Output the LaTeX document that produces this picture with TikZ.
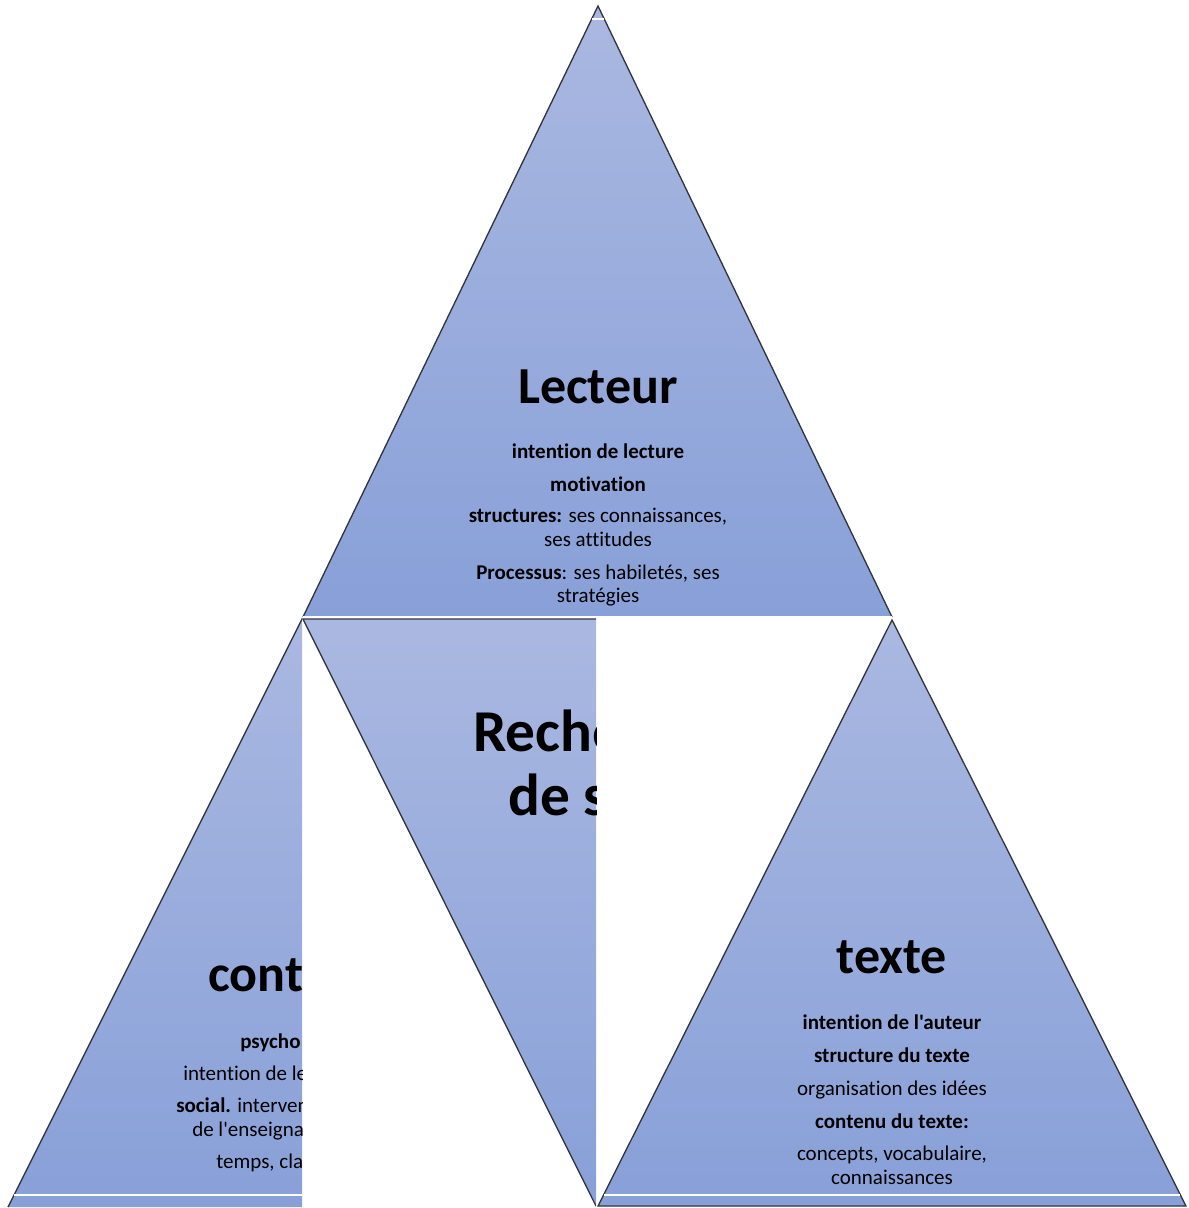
\documentclass[tikz,border=0pt]{standalone}
\usepackage{fontspec}
\setmainfont{Carlito}[Ligatures={TeXOff,NoCommon}]
\usetikzlibrary{calc}
\definecolor{triTop}{RGB}{170,184,225}
\definecolor{triBot}{RGB}{136,160,216}
\definecolor{triEdge}{RGB}{50,52,62}
\begin{document}
\begin{tikzpicture}[x=0.75pt,y=-0.75pt,
  tri/.style={top color=triTop,bottom color=triBot,draw=none},
  edge/.style={draw=triEdge,line width=1pt,line join=miter},
  gap/.style={draw=white,line width=1.5pt},
  title/.style={font=\fontsize{39}{47}\selectfont\bfseries,inner sep=0pt,anchor=base},
  bigtitle/.style={font=\fontsize{44.5}{53}\selectfont\bfseries,inner sep=0pt,anchor=base west},
  body/.style={font=\fontsize{15.75}{18}\selectfont,inner sep=0pt,anchor=base},
  bodyl/.style={body,anchor=base west},
]
\useasboundingbox (0,0) rectangle (1189,1208);

% ---- Lecteur (upper triangle)
\coordinate (tA) at (598,6);
\coordinate (tL) at (303,617);
\coordinate (tR) at (892,617);
\shade[tri] (tA) -- (tL) -- (tR) -- cycle;
\draw[edge] (tL) -- (tA) -- (tR);
\draw[gap] (tL) -- (tR);
\draw[gap] ($(tA)!13/611!(tL)$) -- ($(tA)!13/611!(tR)$);

\node[title] (lecteur) at (598,403) {Lecteur};
\node[body] (l1) at (598,458) {\textbf{intention de lecture}};
\node[body] (l2) at (598,491) {\textbf{motivation}};
\node[body] (l3) at (598,522) {\textbf{structures:} ses connaissances,};
\node[body] (l4) at (598,546) {ses attitudes};
\node[body] (l5) at (598,579) {\textbf{Processus}: ses habiletés, ses};
\node[body] (l6) at (598,602) {stratégies};

% ---- Recherche de sens (inverted middle triangle, cut at x = 596)
\begin{scope}
  \clip (0,0) rectangle (596,1208);
  \coordinate (mL) at (303,619);
  \coordinate (mR) at (889,619);
  \coordinate (mB) at (596,1206);
  \shade[tri] (mL) -- (mR) -- (mB) -- cycle;
  \draw[edge] (mR) -- (mL) -- (mB);
  \node[bigtitle] (sens1) at (473,751) {Reche};
  \node[bigtitle] (sens2) at (508,815) {de s};
\end{scope}

% ---- contexte (lower left triangle, cut at x = 302)
\begin{scope}
  \clip (0,0) rectangle (302,1208);
  \coordinate (cA) at (302,619);
  \coordinate (cL) at (8,1207);
  \coordinate (cR) at (596,1207);
  \shade[tri] (cA) -- (cL) -- (cR) -- cycle;
  \draw[edge] (cL) -- (cA) -- (cR);
  \draw[gap] (14,1195) -- (590,1195);
  \node[title,anchor=base west] (contexte) at (208,991) {cont};
  \node[bodyl] (c1) at (240,1048) {\textbf{psycho}};
  \node[bodyl] (c2) at (183,1080) {intention de le};
  \node[bodyl] (c3) at (176,1112) {\textbf{social.} interven};
  \node[bodyl] (c4) at (192,1136) {de l'enseigna};
  \node[bodyl] (c5) at (216,1168) {temps, cla};
\end{scope}

% ---- texte (lower right triangle)
\coordinate (rA) at (892,620);
\coordinate (rL) at (598,1206);
\coordinate (rR) at (1186,1206);
\shade[tri] (rA) -- (rL) -- (rR) -- cycle;
\draw[edge] (rL) -- (rA) -- (rR) -- cycle;
\draw[gap] (604,1195) -- (1180,1195);

\node[title] (texte) at (892,973) {texte};
\node[body] (t1) at (892,1029) {\textbf{intention de l'auteur}};
\node[body] (t2) at (892,1062) {\textbf{structure du texte}};
\node[body] (t3) at (892,1095) {organisation des idées};
\node[body] (t4) at (892,1128) {\textbf{contenu du texte:}};
\node[body] (t5) at (892,1160) {concepts, vocabulaire,};
\node[body] (t6) at (892,1184) {connaissances};
\end{tikzpicture}
\end{document}
